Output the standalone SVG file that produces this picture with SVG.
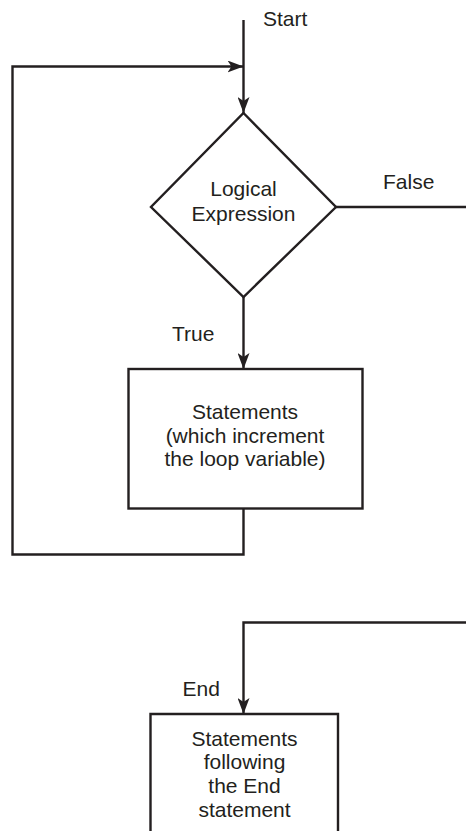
<svg xmlns="http://www.w3.org/2000/svg" width="466" height="831" viewBox="0 0 466 831">
<style>
  .ln { fill: none; stroke: #231f20; stroke-width: 2.4; }
  .shape { fill: #ffffff; stroke: #231f20; stroke-width: 2.4; stroke-linejoin: miter; }
  text { font-family: "Liberation Sans", Arial, Helvetica, sans-serif; font-size: 21px; fill: #231f20; }
  .c { text-anchor: middle; }
</style>
<defs>
  <marker id="arr" viewBox="0 0 16 12" refX="16" refY="6" markerWidth="16" markerHeight="12" markerUnits="userSpaceOnUse" orient="auto">
    <path d="M0,0 L16,6 L0,12 L4,6 Z" fill="#231f20"/>
  </marker>
</defs>
<rect width="466" height="831" fill="#ffffff"/>
<g id="connectors">
  <path class="ln" d="M243.5,20 V113" marker-end="url(#arr)"/>
  <path class="ln" d="M243.5,508.5 V554.5 H12.5 V66.5 H243.5" marker-end="url(#arr)"/>
  <path class="ln" d="M243.5,297 V369" marker-end="url(#arr)"/>
  <path class="ln" d="M336,207 H466"/>
  <path class="ln" d="M466,622.5 H243.5 V714" marker-end="url(#arr)"/>
</g>
<g id="labels">
  <text x="263" y="26">Start</text>
  <text x="383" y="189">False</text>
  <text x="172" y="341">True</text>
  <text x="182.5" y="696">End</text>
</g>
<g id="decision">
  <path class="shape" d="M243.5,113 L336,207 L243.5,297 L151,207 Z"/>
  <text class="c" x="243.5" y="196">Logical</text>
  <text class="c" x="243.5" y="221">Expression</text>
</g>
<g id="loop-body">
  <rect class="shape" x="128.5" y="369" width="234" height="139.5"/>
  <text class="c" x="245" y="418.5">Statements</text>
  <text class="c" x="245" y="442.5">(which increment</text>
  <text class="c" x="245" y="466">the loop variable)</text>
</g>
<g id="after-loop">
  <path class="shape" d="M150.5,831 V714 H338 V831"/>
  <text class="c" x="244.5" y="745.5">Statements</text>
  <text class="c" x="244.5" y="769">following</text>
  <text class="c" x="244.5" y="793">the End</text>
  <text class="c" x="244.5" y="817">statement</text>
</g>
</svg>
